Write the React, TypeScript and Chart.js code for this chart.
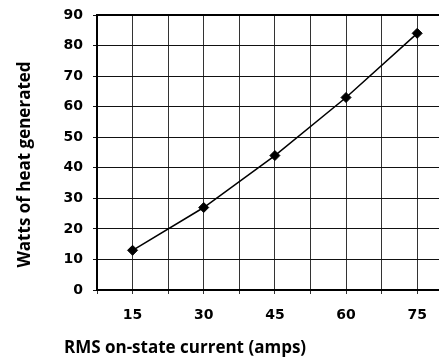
import React, { useEffect, useRef } from "react";
import { Chart, registerables } from "chart.js";

Chart.register(...registerables);

const currents = [15, 30, 45, 60, 75];
const watts = [13, 27, 44, 63, 84];
const xTitle = "RMS on-state current (amps)";
const yTitle = "Watts of heat generated";
const xGridStep = 7.5;
const xMin = 7.5;
const xMax = 79.6;
const yMin = 0;
const yMax = 90;
const yStep = 10;

const TITLE_FONT = 'bold 17px "Open Sans"';

const extras = {
  id: "extras",
  afterDatasetsDraw(chart: any) {
    const { ctx, chartArea } = chart;
    ctx.save();
    ctx.strokeStyle = "#000";
    ctx.lineWidth = 2;
    ctx.beginPath();
    ctx.moveTo(chartArea.left - 1, chartArea.top);
    ctx.lineTo(chartArea.right, chartArea.top);
    ctx.stroke();
    ctx.restore();
  },
  afterDraw(chart: any) {
    const { ctx, chartArea } = chart;
    ctx.save();
    ctx.fillStyle = "#000";
    ctx.font = TITLE_FONT;
    ctx.textAlign = "center";
    ctx.textBaseline = "alphabetic";
    ctx.fillText(xTitle, chartArea.left + 88, chartArea.bottom + 63);
    ctx.translate(chartArea.left - 67, (chartArea.top + chartArea.bottom) / 2 + 12);
    ctx.rotate(-Math.PI / 2);
    ctx.fillText(yTitle, 0, 0);
    ctx.restore();
  },
};

export default function App() {
  const ref = useRef<HTMLCanvasElement | null>(null);
  useEffect(() => {
    const ctx = ref.current;
    if (!ctx) return;
    const chart = new Chart(ctx, {
      type: "line",
      data: {
        datasets: [
          {
            data: currents.map((c, i) => ({ x: c, y: watts[i] })),
            borderColor: "#000",
            backgroundColor: "#000",
            borderWidth: 1.5,
            pointStyle: "rectRot",
            pointRadius: 5,
            pointBorderWidth: 1,
            tension: 0,
            clip: false,
          },
        ],
      },
      options: {
        animation: false,
        responsive: true,
        maintainAspectRatio: false,
        layout: { autoPadding: false, padding: { top: 15, right: 0, left: 0, bottom: 0 } },
        plugins: { legend: { display: false }, tooltip: { enabled: false } },
        scales: {
          x: {
            type: "linear",
            min: xMin,
            max: xMax,
            afterBuildTicks: (scale: any) => {
              const t: any[] = [];
              for (let v = xMin; v <= currents[currents.length - 1] + 0.01; v += xGridStep) t.push({ value: v });
              scale.ticks = t;
            },
            afterFit: (scale: any) => {
              scale.height = 68;
              scale.paddingRight = 0;
              scale.paddingLeft = 0;
            },
            grid: { color: "#333", lineWidth: 1, tickLength: 4, drawTicks: true },
            border: { color: "#000", width: 2 },
            ticks: {
              color: "#000",
              padding: 13,
              maxRotation: 0,
              autoSkip: false,
              font: { family: "DejaVu Sans", weight: "bold", size: 14 },
              callback: (v: any) => (currents.includes(Number(v)) ? String(v) : ""),
            },
          },
          y: {
            min: yMin,
            max: yMax,
            afterFit: (scale: any) => {
              scale.width = 97;
              scale.paddingTop = 0;
              scale.paddingBottom = 0;
            },
            grid: { color: "#111", lineWidth: 1, tickLength: 4 },
            border: { color: "#000", width: 2 },
            ticks: {
              stepSize: yStep,
              color: "#000",
              padding: 10,
              font: { family: "DejaVu Sans", weight: "bold", size: 14 },
            },
          },
        },
      },
      plugins: [extras],
    } as any);
    return () => chart.destroy();
  }, []);
  return (
    <div style={{ position: "absolute", left: 0, top: 0, width: 439, height: 358 }}>
      <canvas ref={ref} />
    </div>
  );
}
